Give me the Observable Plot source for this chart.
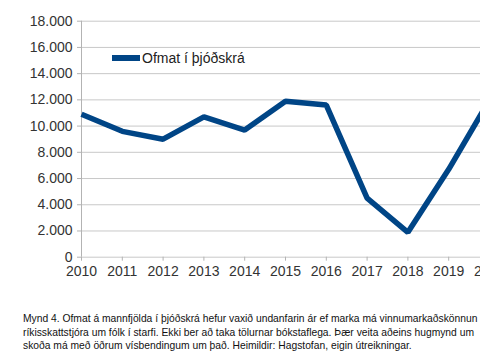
<!DOCTYPE html>
<html>
<head>
<meta charset="utf-8">
<script src="https://cdn.jsdelivr.net/npm/d3@7"></script>
<script src="https://cdn.jsdelivr.net/npm/@observablehq/plot@0.6"></script>
<style>
  html, body { margin: 0; padding: 0; background: #fff; width: 480px; height: 360px; overflow: hidden; }
  #wrap { position: relative; width: 480px; height: 360px; overflow: hidden; }
  #chart { position: absolute; left: 0; top: 0; width: 510px; }
  #chart svg { max-width: none !important; }
  #legend { position: absolute; left: 112px; top: 50px; font: 14px "Liberation Sans", Arial, sans-serif; color: #222; display: flex; align-items: center; white-space: nowrap; }
  #legend .sw { width: 28px; height: 6px; background: #004586; margin-right: 2px; }
  #caption { position: absolute; left: 23px; top: 312px; font: 10.3px "Liberation Sans", Arial, sans-serif; line-height: 13.5px; color: #111; white-space: nowrap; }
</style>
</head>
<body>
<div id="wrap">
  <div id="chart"></div>
  <div id="legend"><div class="sw"></div><span>Ofmat í þjóðskrá</span></div>
  <div id="caption"></div>
</div>
<script>
const years = [2010, 2011, 2012, 2013, 2014, 2015, 2016, 2017, 2018, 2019, 2020];
const values = [10900, 9600, 9000, 10700, 9700, 11900, 11600, 4500, 1900, 6700, 12000];
const yTicks = [0, 2000, 4000, 6000, 8000, 10000, 12000, 14000, 16000, 18000];
const seriesName = "Ofmat í þjóðskrá";
const captionLines = [
  "Mynd 4. Ofmat á mannfjölda í þjóðskrá hefur vaxið undanfarin ár ef marka má vinnumarkaðskönnun",
  "ríkisskattstjóra um fólk í starfi. Ekki ber að taka tölurnar bókstaflega. Þær veita aðeins hugmynd um",
  "skoða má með öðrum vísbendingum um það. Heimildir: Hagstofan, eigin útreikningar."
];

const data = years.map((y, i) => ({year: y, value: values[i]}));
const fmt = d => d === 0 ? "0" : d3.format(",")(d).replace(/,/g, ".");

const chart = Plot.plot({
  width: 510,
  height: 290,
  marginLeft: 81,
  marginRight: 21,
  marginTop: 20.7,
  marginBottom: 33.3,
  style: {fontFamily: "'Liberation Sans', Arial, sans-serif", fontSize: "14px", color: "#333", background: "#fff", overflow: "visible", maxWidth: "none"},
  x: {domain: [2010, 2020], label: null},
  y: {domain: [0, 18000], label: null},
  marks: [
    Plot.gridY(yTicks, {stroke: "#c8c8c8", strokeOpacity: 1, strokeWidth: 1}),
    Plot.ruleX([2010], {stroke: "#b3b3b3", strokeWidth: 1}),
    Plot.axisY(yTicks, {tickSize: 4, tickPadding: 5, tickFormat: fmt, stroke: "#b3b3b3", fill: "#333", label: null}),
    Plot.axisX(years, {tickSize: 4, tickPadding: 5, tickFormat: d => String(d), stroke: "#b3b3b3", fill: "#333", label: null}),
    Plot.line(data, {x: "year", y: "value", stroke: "#004586", strokeWidth: 5.5, strokeLinejoin: "miter", strokeLinecap: "butt"})
  ]
});
document.getElementById("chart").appendChild(chart);
document.getElementById("caption").innerHTML = captionLines.join("<br>");
</script>
</body>
</html>
